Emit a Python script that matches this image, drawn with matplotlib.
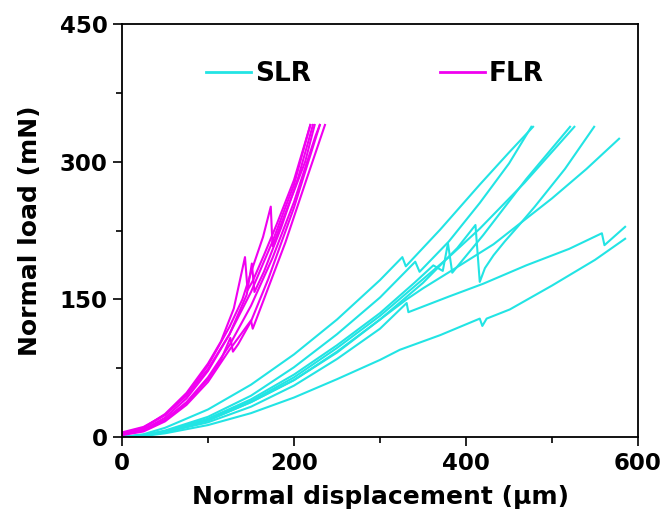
import matplotlib
matplotlib.use('Agg')
import matplotlib.pyplot as plt
from matplotlib.ticker import MultipleLocator
from matplotlib.lines import Line2D

# ---------------- data ----------------
# SLR curves (normal displacement um, normal load mN)
slr1_x = [0, 25, 50, 100, 150, 200, 250, 300, 326, 330, 370, 416, 450, 478]
slr1_y = [0, 3, 10, 30, 57, 90, 128, 171, 196, 186, 226, 275, 310, 338]

slr2_x = [0, 25, 50, 100, 150, 200, 250, 300, 341, 346, 380, 416, 450, 476]
slr2_y = [0, 2, 7, 22, 45, 76, 112, 152, 191, 180, 213, 255, 298, 338]

slr3_x = [0, 25, 50, 100, 150, 200, 250, 300, 340, 362, 373, 379, 384, 420, 470, 521]
slr3_y = [0, 2, 6, 20, 41, 68, 100, 135, 168, 187, 181, 211, 179, 220, 281, 338]

slr4_x = [0, 25, 50, 100, 150, 200, 250, 300, 350, 380, 416, 468, 526]
slr4_y = [0, 2, 6, 19, 39, 65, 97, 132, 172, 196, 227, 277, 338]

slr5_x = [0, 25, 50, 100, 150, 200, 250, 300, 350, 390, 411, 416, 422, 432, 445, 460, 480, 515, 549]
slr5_y = [0, 2, 6, 18, 38, 62, 93, 128, 168, 206, 231, 169, 184, 198, 213, 229, 251, 292, 338]

slr6_x = [0, 25, 50, 100, 150, 200, 250, 300, 331, 350, 381, 432, 500, 540, 578]
slr6_y = [0, 2, 6, 18, 38, 62, 92, 128, 150, 162, 180, 210, 260, 292, 325]

slr7_x = [0, 25, 50, 100, 150, 200, 250, 300, 331, 333, 380, 420, 470, 520, 558, 561, 585]
slr7_y = [0, 1.5, 5, 16, 33, 56, 85, 118, 146, 136, 153, 167, 187, 205, 222, 209, 229]

slr8_x = [0, 25, 50, 100, 150, 200, 250, 300, 323, 370, 416, 419, 424, 451, 500, 550, 585]
slr8_y = [0, 1, 4, 13, 26, 43, 63, 84, 95, 111, 129, 121, 129, 139, 165, 193, 216]

# FLR curves
flr1_x = [0, 25, 50, 75, 100, 115, 130, 143, 146, 152, 165, 180, 200, 219]
flr1_y = [4, 10, 25, 48, 80, 104, 140, 196, 160, 170, 198, 232, 280, 340]

flr2_x = [0, 25, 50, 75, 100, 125, 145, 151, 154, 165, 185, 205, 222]
flr2_y = [3, 8, 21, 42, 72, 112, 155, 189, 158, 180, 228, 283, 340]

flr3_x = [0, 25, 50, 75, 100, 125, 140, 152, 164, 173, 175, 185, 200, 213, 224]
flr3_y = [4, 10, 24, 46, 78, 120, 150, 185, 218, 251, 208, 232, 268, 300, 340]

flr4_x = [0, 25, 50, 75, 100, 115, 126, 129, 135, 150, 170, 200, 230]
flr4_y = [3, 7, 18, 37, 63, 84, 108, 93, 101, 126, 172, 250, 340]

flr5_x = [0, 25, 50, 75, 100, 125, 150, 152, 165, 190, 215, 236]
flr5_y = [2, 6, 17, 35, 60, 95, 127, 118, 150, 212, 282, 340]

flr6_x = [0, 25, 50, 75, 100, 125, 150, 175, 200, 225, 230]
flr6_y = [3, 7, 19, 38, 65, 100, 143, 195, 256, 328, 340]

flr7_x = [0, 25, 50, 75, 100, 125, 150, 175, 200, 219]
flr7_y = [5, 11, 24, 45, 74, 112, 158, 213, 275, 340]

x_ticks = [0, 200, 400, 600]
y_ticks = [0, 150, 300, 450]
series_labels = ["SLR", "FLR"]
x_label = "Normal displacement (μm)"
y_label = "Normal load (mN)"

# ---------------- style ----------------
CYAN = '#22E4E4'
MAGENTA = '#F000F0'

plt.rcParams['font.family'] = ['DejaVu Sans']
plt.rcParams['font.weight'] = 'bold'

fig = plt.figure(figsize=(6.65, 5.2), dpi=100)
ax = fig.add_axes([122/665, 83/520, 516/665, 413/520])

slr_curves = [(slr1_x, slr1_y), (slr2_x, slr2_y), (slr3_x, slr3_y), (slr4_x, slr4_y),
              (slr5_x, slr5_y), (slr6_x, slr6_y), (slr7_x, slr7_y), (slr8_x, slr8_y)]
flr_curves = [(flr1_x, flr1_y), (flr2_x, flr2_y), (flr3_x, flr3_y), (flr4_x, flr4_y),
              (flr5_x, flr5_y), (flr6_x, flr6_y), (flr7_x, flr7_y)]

for xs, ys in slr_curves:
    ax.plot(xs, ys, color=CYAN, lw=1.5, solid_joinstyle='round')
for xs, ys in flr_curves:
    ax.plot(xs, ys, color=MAGENTA, lw=1.5, solid_joinstyle='round')

ax.set_xlim(0, 600)
ax.set_ylim(0, 450)
ax.set_xticks(x_ticks)
ax.set_yticks(y_ticks)
ax.xaxis.set_minor_locator(MultipleLocator(100))
ax.yaxis.set_minor_locator(MultipleLocator(75))
ax.tick_params(which='major', direction='out', length=6.5, width=1.2,
               labelsize=16.5, pad=4)
ax.tick_params(which='minor', direction='out', length=4, width=1.2)
for lab in ax.get_xticklabels() + ax.get_yticklabels():
    lab.set_fontweight('bold')
for sp in ax.spines.values():
    sp.set_linewidth(1.3)

fig.text(380/665, 1 - 497/520, x_label, ha='center', va='center',
         fontsize=18, fontweight='bold')
fig.text(30/665, 1 - 231/520, y_label, ha='center', va='center',
         rotation=90, fontsize=18, fontweight='bold')

handles = [Line2D([], [], color=CYAN, lw=2), Line2D([], [], color=MAGENTA, lw=2)]
ax.legend(handles, series_labels, loc='center left',
          bbox_to_anchor=(0.163, (437 - 74) / 413), ncol=2, frameon=False,
          fontsize=19, handlelength=1.7, handletextpad=0.15,
          columnspacing=4.9, borderpad=0, borderaxespad=0,
          prop={'weight': 'bold', 'size': 19})

fig.savefig('out.png', dpi=100)
